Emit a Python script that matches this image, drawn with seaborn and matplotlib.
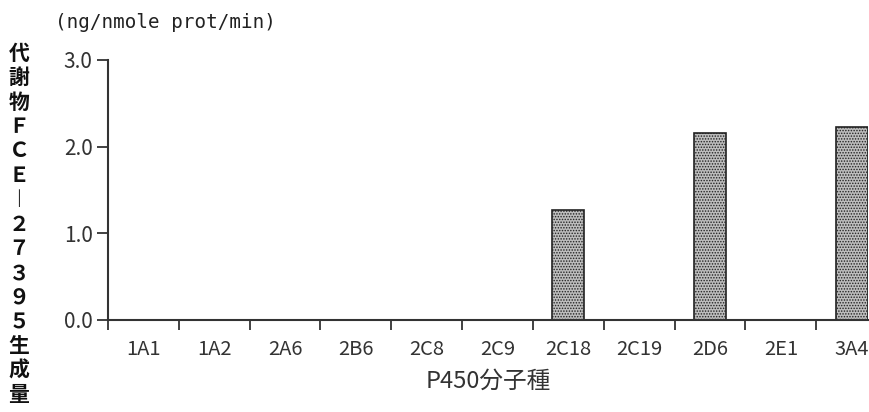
import matplotlib
matplotlib.use("Agg")
import matplotlib.pyplot as plt
import seaborn as sns
import numpy as np

# data
isoforms = ["1A1", "1A2", "2A6", "2B6", "2C8", "2C9", "2C18", "2C19", "2D6", "2E1", "3A4"]
amount = [0, 0, 0, 0, 0, 0, 1.27, 0, 2.16, 0, 2.23]
y_ticks = [0.0, 1.0, 2.0, 3.0]

sns.set_style("white")
plt.rcParams["font.family"] = ["Noto Sans CJK JP", "DejaVu Sans"]
plt.rcParams["hatch.linewidth"] = 0.7
plt.rcParams["hatch.color"] = "#444444"

ink = "#333333"
fig = plt.figure(figsize=(8.7, 4.12), dpi=100)
ax = fig.add_axes([108 / 870, 1 - 320 / 412, 760 / 870, 260 / 412])

sns.barplot(x=isoforms, y=amount, color="#bdbdbd", width=0.45, edgecolor="#222222",
            linewidth=1.2, hatch="......", saturation=1, ax=ax)

ax.set_ylim(0, 3.0)
ax.set_xlim(-0.5, 10.23)
ax.set_yticks(y_ticks)
ax.set_yticklabels([f"{v:.1f}" for v in y_ticks], fontsize=15, color=ink)
ax.tick_params(axis="y", left=True, length=8, width=1.3, color=ink, direction="out", pad=3)

# category labels at centres, tick marks at the boundaries
ax.set_xticks(np.arange(len(isoforms)))
ax.set_xticklabels(isoforms, fontsize=14.5, color=ink)
ax.tick_params(axis="x", which="major", bottom=False, length=0, pad=14)
ax.set_xticks(np.arange(len(isoforms)) - 0.5, minor=True)
ax.tick_params(axis="x", which="minor", bottom=True, length=7, width=1.3, color=ink,
               direction="out")

for s in ["top", "right"]:
    ax.spines[s].set_visible(False)
for s in ["left", "bottom"]:
    ax.spines[s].set_color(ink)
    ax.spines[s].set_linewidth(1.5)

ax.set_xlabel("P450分子種", fontsize=17, color=ink, labelpad=7)
ax.set_ylabel("")

fig.text(55 / 870, 1 - 22 / 412, "(ng/nmole prot/min)", fontsize=13.9,
         family=["DejaVu Sans Mono"], color="#222222", va="center", ha="left")

vlabel = "代謝物ＦＣＥ︱２７３９５生成量"
fig.text(19 / 870, 1 - 224 / 412, "\n".join(vlabel), fontsize=15, color="#111111",
         ha="center", va="center", linespacing=1.2, fontweight="bold")

fig.savefig("out.png", dpi=100)
